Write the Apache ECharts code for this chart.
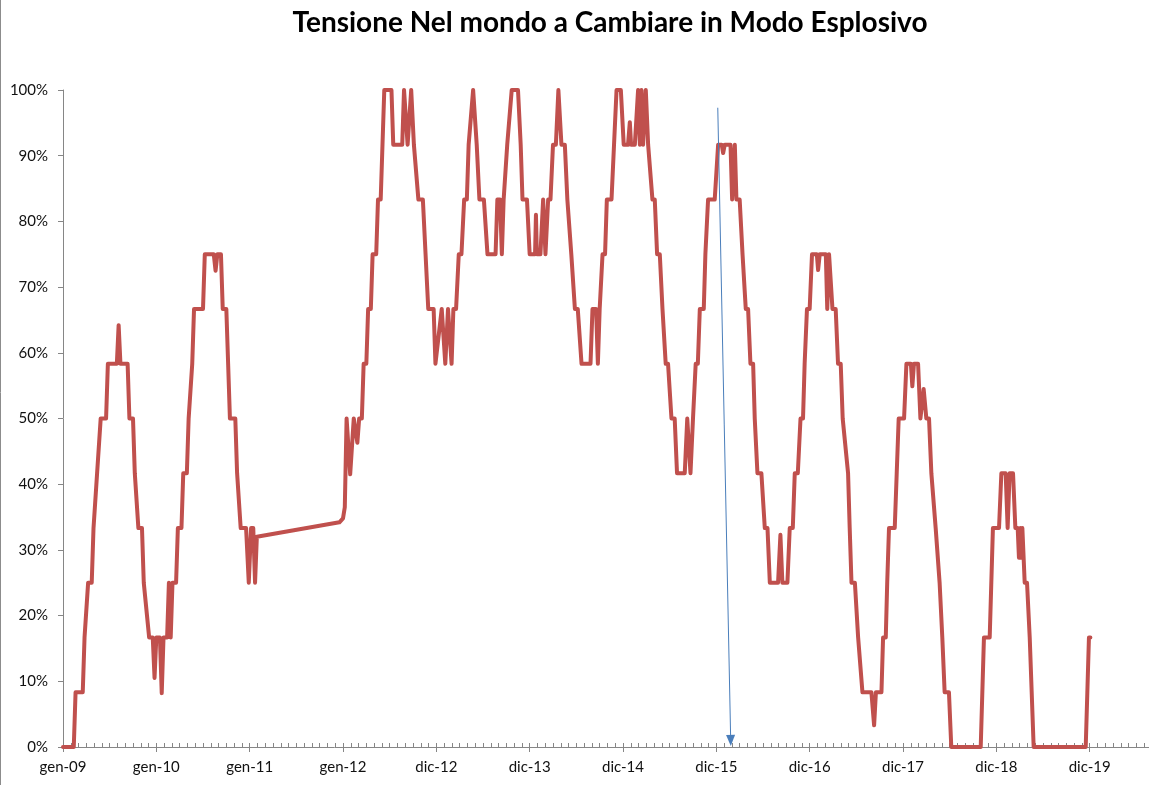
<!DOCTYPE html>
<html>
<head>
<meta charset="utf-8">
<script src="https://cdn.jsdelivr.net/npm/echarts@6/dist/echarts.min.js"></script>
<style>
html,body{margin:0;padding:0;background:#fff;}
#chart{width:1149px;height:785px;}
</style>
</head>
<body>
<div id="chart"></div>
<script>
// Chart title and axis tick labels (one label every 52 weeks)
const titleText = 'Tensione Nel mondo a Cambiare in Modo Esplosivo';
const tickLabels = ['gen-09','gen-10','gen-11','gen-12','dic-12','dic-13','dic-14','dic-15','dic-16','dic-17','dic-18','dic-19'];

// Weekly series, listed at the weeks where the value changes (week index from gen-09)
const weeks = [
  0,6,7,11,12,13,14,16,17,18,19,20,21,24,25,30,31,32,36,37,39,40,41,42,44,45,46,48,50,51,52,54,55,56,58,59,60,61,63,64,66,67,69,70,71,72,73,78,79,84,85,86,88,89,91,92,93,96,97,98,99,102,103.5,104.8,106,107,108,
  154,156,157,
  158,160,162,163,164,165,166.5,167.5,169,170,171.5,172.5,174.5,175.5,177,178,179,183,184,189,190,192,194,195.5,198,200.5,202,203.5,206.5,207.5,211,213,214.5,216.5,217.5,219,220.5,222,223.5,225,226,227,228.5,230.5,232,234.5,236.5,241,242,243.5,244.5,245.5,247.5,250,253.5,255,256,258.5,260,263,263.5,264,266,267.5,268.8,270.3,271.6,273,274.6,276,277.7,279.6,281,282,283.2,284.2,285.2,286.8,288.9,293.9,295,297,298,299,300.6,302,303,305.6,307,308.4,310.8,312.4,314.8,315.8,316.5,318.6,320.4,321.4,322.3,323.2,324.7,326,328.4,329.7,331,332.5,334,335.8,337.1,339,340.8,342.1,346.4,347.8,349.6,351,352.5,353.7,354.8,357,357.9,359.4,363.1,365,367,367.8,368.7,371.9,372.8,374.3,375.2,377,378.6,379.3,380.4,381.7,383,384.5,385.4,386.9,389.1,391,392.5,393.8,398.4,399.7,400.8,403.6,404.9,406.6,407.7,409.4,410.9,412.3,413.2,413.8,414.5,416,417.3,420,420.7,421.6,425,425.8,426.8,428.7,430.5,431.8,433.3,434.4,435.5,437.4,438.3,439.3,441.2,443,443.9,445.4,450.4,451.9,452.9,456,456.9,458.4,459.2,460.2,463.4,464.5,465.6,468.6,469.9,472.4,473.2,474.1,476.4,477.7,479.5,481,482.5,483.8,484.7,486.2,487,488.4,489.9,491.2,493.6,494.9,511.3,513.1,516.3,518.1,521.5,522.8,525.2,526.3,527.4,529.3,530.6,531.9,532.6,533.4,533.8,534.5,535.8,537.1,538.6,539.5,540.8,569.8,571.6,572.4
];
const values = [
  0,0,8.33,8.33,16.67,16.67,25,25,33.33,33.33,41.67,41.67,50,50,58.33,58.33,64.2,58.33,58.33,50,50,41.67,41.67,33.33,33.33,25,25,16.67,16.67,10.5,16.67,16.67,8.2,16.67,16.67,25,16.67,25,25,33.33,33.33,41.67,41.67,50,50,58.33,66.67,66.67,75,75,72.5,75,75,66.67,66.67,58.33,50,50,41.67,41.67,33.33,33.33,25,33.33,33.33,25,32,
  34.2,34.8,36.5,
  50,41.5,50,50,46.3,50,50,58.33,58.33,66.67,66.67,75,75,83.33,83.33,91.67,100,100,91.67,91.67,100,91.67,100,91.67,83.33,83.33,75,66.67,66.67,58.33,66.67,58.33,66.67,58.33,66.67,66.67,75,75,83.33,83.33,91.67,91.67,100,91.67,83.33,83.33,75,75,83.33,83.33,75,83.33,91.67,100,100,91.67,83.33,83.33,75,75,81,75,75,83.33,75,83.33,83.33,91.67,91.67,100,91.67,91.67,83.33,83.33,75,75,66.67,66.67,58.33,58.33,66.67,66.67,58.33,66.67,75,75,83.33,83.33,91.67,100,100,91.67,91.67,95.1,91.67,91.67,100,91.67,100,91.67,100,91.67,83.33,83.33,75,75,66.67,58.33,58.33,50,50,41.67,41.67,50,41.67,50,58.33,58.33,66.67,66.67,75,83.33,83.33,91.67,91.67,90.4,91.67,91.67,83.33,91.67,83.33,83.33,75,75,66.67,66.67,58.33,58.33,50,41.67,41.67,33.33,33.33,25,25,32.3,25,25,33.33,33.33,41.67,41.67,50,50,58.33,58.33,66.67,66.67,75,75,72.6,75,75,66.67,75,66.67,66.67,58.33,58.33,50,50,41.67,33.33,25,25,16.67,16.67,8.33,8.33,3.3,8.33,8.33,16.67,16.67,25,33.33,33.33,41.67,50,50,58.33,58.33,54.9,58.33,58.33,50,54.5,50,50,41.67,41.67,33.33,33.33,25,16.67,8.33,8.33,0,0,16.67,16.67,33.33,33.33,41.67,41.67,33.33,41.67,41.67,33.33,33.33,28.8,33.33,28.8,33.33,25,25,16.67,16.67,0,0,16.67,16.67
];

// Annotation arrow (start and end in data space: week, percent)
const arrowFrom = [364.8, 97.3];
const arrowTo = [372, 1.0];

const seriesData = weeks.map((w, i) => [w, values[i]]);

const chart = echarts.init(document.getElementById('chart'), null, {renderer: 'canvas'});
const axisGray = '#868686';
const font = 'Lato, "Open Sans", "Liberation Sans", sans-serif';

chart.setOption({
  animation: false,
  backgroundColor: '#ffffff',
  grid: {left: 63, width: 1120, top: 90, height: 657, containLabel: false, outerBoundsMode: 'none'},
  graphic: [
    {type: 'text', x: 610, y: 23, style: {text: titleText, font: 'bold 28px ' + font, fill: '#000', textAlign: 'center', textVerticalAlign: 'middle'}},
    {type: 'line', shape: {x1: 0.5, y1: 0, x2: 0.5, y2: 785}, style: {stroke: '#8c8c8c', lineWidth: 1}}
  ],
  xAxis: [
    {
      type: 'value', min: 0, max: 624, interval: 52, position: 'bottom',
      axisLine: {show: true, lineStyle: {color: axisGray, width: 1}},
      axisTick: {show: true, inside: false, length: 5, lineStyle: {color: axisGray}},
      splitLine: {show: false},
      axisLabel: {
        show: true, margin: 13, color: '#111', fontSize: 15, fontFamily: font,
        formatter: function (v) { const i = Math.round(v / 52); return (Math.abs(v - i * 52) < 1e-6 && tickLabels[i]) ? tickLabels[i] : ''; }
      }
    },
    {
      type: 'value', min: 0, max: 624, interval: 52 / 12, position: 'bottom',
      axisLine: {show: false},
      axisTick: {show: true, inside: true, length: 4, lineStyle: {color: axisGray}},
      splitLine: {show: false},
      axisLabel: {show: false}
    }
  ],
  yAxis: {
    type: 'value', min: 0, max: 100, interval: 10,
    axisLine: {show: true, lineStyle: {color: axisGray, width: 1}},
    axisTick: {show: true, inside: false, length: 5, lineStyle: {color: axisGray}},
    splitLine: {show: false},
    axisLabel: {color: '#111', fontSize: 15, fontFamily: font, margin: 15, formatter: '{value}%'}
  },
  series: [{
    type: 'line',
    xAxisIndex: 0,
    data: seriesData,
    showSymbol: false,
    symbol: 'none',
    connectNulls: true,
    lineStyle: {color: '#C0504D', width: 4, join: 'round', cap: 'round'},
    silent: true,
    markLine: {
      silent: true,
      symbol: ['none', 'triangle'],
      symbolSize: [9, 11],
      label: {show: false},
      lineStyle: {color: '#4A7EBB', width: 1, type: 'solid'},
      emphasis: {disabled: true},
      data: [[{coord: arrowFrom}, {coord: arrowTo}]]
    }
  }]
});
</script>
</body>
</html>
